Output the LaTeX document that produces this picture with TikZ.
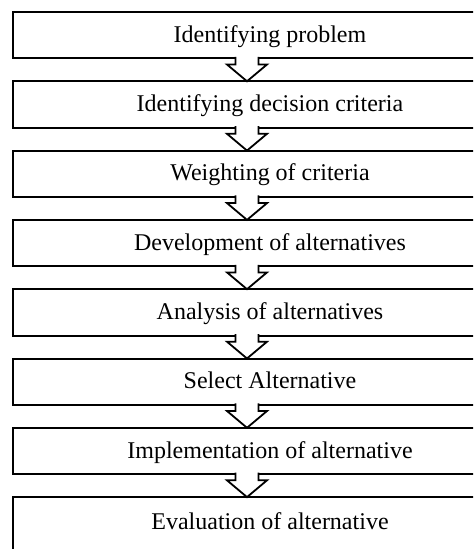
\documentclass[tikz,border=0pt]{standalone}
\usepackage{fontspec}
\setmainfont{Liberation Serif}
\usepackage{tikz}
\usetikzlibrary{positioning, calc}

\begin{document}
\begin{tikzpicture}[
  node distance=11.4pt,
  stepbox/.style={draw, line width=1pt, minimum width=257pt, minimum height=23.25pt,
                  text height=9.5pt, text depth=2.5pt, inner sep=0pt, outer sep=0pt,
                  font=\fontsize{12pt}{14pt}\selectfont, align=center},
  blockarr/.style={draw, line width=0.9pt, fill=white, line join=miter},
]

% ─── FRAME ────────────────────────────────────────────────────────────────────
\useasboundingbox (-6.5pt,6pt) rectangle (230pt,-268.5pt);
\clip (-6.5pt,6pt) rectangle (230pt,-268.5pt);

% ─── STEPS ────────────────────────────────────────────────────────────────────
\node[stepbox, anchor=north west] (prob) at (0,0) {Identifying problem};
\node[stepbox, below=of prob]   (crit)   {Identifying decision criteria};
\node[stepbox, below=of crit]   (weight) {Weighting of criteria};
\node[stepbox, below=of weight] (devel)  {Development of alternatives};
\node[stepbox, below=of devel]  (anal)   {Analysis of alternatives};
\node[stepbox, below=of anal]   (select) {Select Alternative};
\node[stepbox, below=of select] (impl)   {Implementation of alternative};
\node[stepbox, below=of impl, minimum height=40pt, text depth=17.5pt] (eval) {Evaluation of alternative};

% ─── BLOCK ARROWS ─────────────────────────────────────────────────────────────
\foreach \a/\b in {prob/crit, crit/weight, weight/devel, devel/anal,
                   anal/select, select/impl, impl/eval}{
  \draw[blockarr] ($(\a.south west)+(111.25pt,0.8pt)$) -- ++(0,-3.8pt) -- ++(-4.25pt,0)
    -- ($(\b.north west)+(117pt,0)$) -- ($(\a.south west)+(127pt,-3pt)$)
    -- ++(-4.25pt,0) -- ++(0,3.8pt);
}

\end{tikzpicture}
\end{document}
